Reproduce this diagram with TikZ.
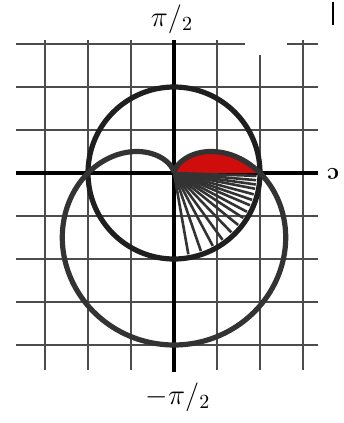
\documentclass[tikz,border=0pt]{standalone}
\begin{document}
\begin{tikzpicture}[x=0.5pt,y=-0.5pt,
  gridline/.style={draw=black!70,line width=1pt},
  axisline/.style={draw=black,line width=1.6pt},
  curve/.style={draw=black!88,line width=2.6pt},
  fanline/.style={draw=black!80,line width=1.3pt},
  lbl/.style={inner sep=0pt,font=\Large}]
\useasboundingbox (0,0) rectangle (343,423);
% horizontal grid lines
\foreach \y in {87,130,216,259,302,345} \draw[gridline] (16,\y) -- (318,\y);
\draw[gridline] (16,44) -- (245,44);
\draw[gridline] (287,44) -- (318,44);
% vertical grid lines
\foreach \x in {45,88,131,217,303} \draw[gridline] (\x,40) -- (\x,370);
\draw[gridline] (260,55) -- (260,370);
% axes
\draw[axisline] (16,173) -- (318,173);
\draw[axisline] (174,40) -- (174,372);
% top-right mark
\draw[line width=1.4pt] (333,2) -- (333,25);
% labels
\node[lbl] (top) at (172,19) {$\pi/_{2}$};
\node[lbl] (bot) at (178,397) {$-\pi/_{2}$};
\node[lbl,rotate=180,font=\large\bfseries] (zero) at (333,174) {c};
\begin{scope}[shift={(174,173)},x=21.5pt,y=21.5pt]
  \fill[red!80!black!95] plot[domain=0:90,samples=60,smooth] (\x:{2-2*sin(\x)}) -- cycle;
  \foreach \a in {2,5,8,11,15,19,23,28,33,39,46,54,62,71,80}
    \draw[fanline] (0,0) -- (-\a:1.92);
  \draw[curve] (0,0) circle (2);
  \draw[curve,draw=black!80] plot[domain=0:360,samples=240,smooth] (\x:{2-2*sin(\x)}) -- cycle;
\end{scope}
\end{tikzpicture}
\end{document}
